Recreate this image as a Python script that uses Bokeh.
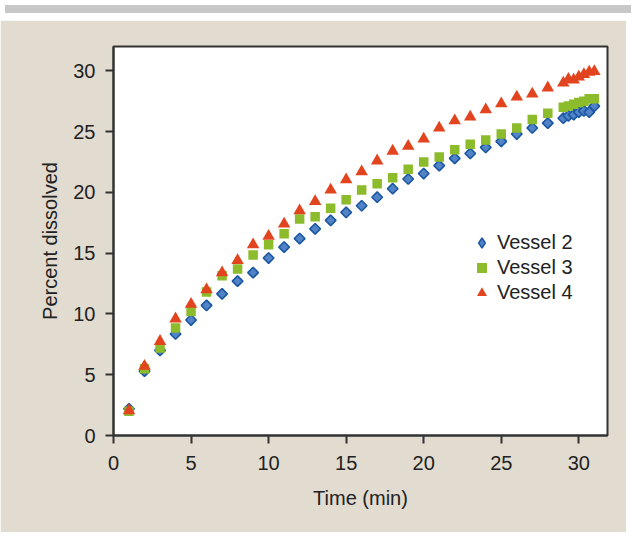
import math
from bokeh.plotting import figure
from bokeh.models import Range1d, FixedTicker, Legend, LegendItem, Div, ColumnDataSource
from bokeh.layouts import column
from bokeh.embed import file_html
from bokeh.resources import INLINE

# ---- data ----
time_min = [1, 2, 3, 4, 5, 6, 7, 8, 9, 10, 11, 12, 13, 14, 15, 16, 17, 18, 19, 20,
            21, 22, 23, 24, 25, 26, 27, 28, 29, 29.33, 29.67, 30, 30.33, 30.67, 31]
vessel2 = [2.2, 5.3, 7.0, 8.35, 9.5, 10.7, 11.65, 12.7, 13.4, 14.6, 15.5, 16.2, 17.0, 17.7,
           18.35, 18.9, 19.6, 20.3, 21.1, 21.55, 22.2, 22.8, 23.2, 23.7, 24.2, 24.8, 25.3,
           25.7, 26.1, 26.3, 26.4, 26.6, 26.7, 26.6, 27.1]
vessel3 = [2.0, 5.5, 7.2, 8.85, 10.2, 11.8, 13.15, 13.7, 14.85, 15.7, 16.6, 17.8, 18.0, 18.7,
           19.4, 20.2, 20.7, 21.2, 21.9, 22.5, 22.9, 23.5, 23.95, 24.3, 24.8, 25.3, 26.0,
           26.5, 27.0, 27.1, 27.25, 27.4, 27.5, 27.7, 27.7]
vessel4 = [2.05, 5.7, 7.75, 9.6, 10.8, 12.0, 13.4, 14.4, 15.7, 16.4, 17.4, 18.5, 19.25, 20.2,
           21.05, 21.7, 22.6, 23.4, 23.8, 24.4, 25.3, 25.9, 26.2, 26.8, 27.3, 27.85, 28.1,
           28.6, 29.0, 29.3, 29.25, 29.5, 29.7, 29.9, 29.95]
series_labels = ["Vessel 2", "Vessel 3", "Vessel 4"]
x_ticks = [0, 5, 10, 15, 20, 25, 30]
y_ticks = [0, 5, 10, 15, 20, 25, 30]
x_label = "Time (min)"
y_label = "Percent dissolved"

# ---- styles ----
FONT = "Liberation Sans"
TXT = "#222222"
AX = "#333333"
BEIGE = "#e1dbd0"
BLUE = "#5283c6"
BLUE_EDGE = "#1b57a3"
GREEN = "#8cbb2b"
RED = "#e1441e"

src2 = ColumnDataSource(dict(t=time_min, v=vessel2))
src3 = ColumnDataSource(dict(t=time_min, v=vessel3))
src4 = ColumnDataSource(dict(t=time_min, v=vessel4))

p = figure(width=626, height=512, output_backend="svg", toolbar_location=None,
           x_range=Range1d(0, 31.85), y_range=Range1d(0, 32),
           min_border_left=113, min_border_right=19, min_border_top=26, min_border_bottom=97,
           background_fill_color="white", border_fill_color=BEIGE,
           outline_line_color=AX, outline_line_width=2)
p.grid.visible = False

# diamond used for the legend key (hidden underneath the rotated squares)
r2_key = p.scatter("t", "v", source=src2, marker="diamond", size=8,
                   fill_color=BLUE, line_color=BLUE_EDGE, line_width=1.5)
r2 = p.scatter("t", "v", source=src2, marker="square", angle=math.pi / 4, size=7.5,
               fill_color=BLUE, line_color=BLUE_EDGE, line_width=1.6)
r3 = p.scatter("t", "v", source=src3, marker="square", size=9.5,
               fill_color=GREEN, line_color=None)
r4 = p.scatter("t", "v", source=src4, marker="triangle", size=12.5,
               fill_color=RED, line_color=None)

legend = Legend(items=[LegendItem(label=series_labels[0], renderers=[r2_key]),
                       LegendItem(label=series_labels[1], renderers=[r3]),
                       LegendItem(label=series_labels[2], renderers=[r4])],
                location=(356, 130), glyph_width=25, glyph_height=25, label_height=25,
                spacing=0, padding=0, margin=0, border_line_color=None,
                background_fill_alpha=0, label_standoff=3,
                label_text_font=FONT, label_text_font_size="20px", label_text_color=TXT)
p.add_layout(legend)

for ax, ticks in ((p.xaxis, x_ticks), (p.yaxis, y_ticks)):
    ax.ticker = FixedTicker(ticks=ticks)
    ax.major_tick_out = 8
    ax.major_tick_in = 0
    ax.minor_tick_line_color = None
    ax.axis_line_width = 2
    ax.axis_line_color = AX
    ax.major_tick_line_width = 2
    ax.major_tick_line_color = AX
    ax.major_label_text_font = FONT
    ax.major_label_text_font_size = "20px"
    ax.major_label_text_color = TXT
    ax.major_label_standoff = 10
    ax.axis_label_text_font = FONT
    ax.axis_label_text_font_size = "20px"
    ax.axis_label_text_font_style = "normal"
    ax.axis_label_text_color = TXT
    ax.axis_label_standoff = 9

p.xaxis.major_label_standoff = 12
p.xaxis.axis_label_standoff = 14
p.xaxis.axis_label = x_label
p.yaxis.axis_label = y_label

band = Div(width=626, height=8, styles={"background-color": "#c8c8c8"})
layout = column(band, p, spacing=2)

open("out.html", "w").write(file_html(layout, INLINE))
